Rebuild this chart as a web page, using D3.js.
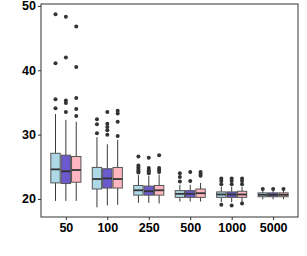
<!DOCTYPE html>
<html><head><meta charset="utf-8">
<script src="https://cdn.jsdelivr.net/npm/d3@7"></script>
<style>body{margin:0;background:#fff;} svg{display:block;}</style>
</head><body>
<script>
const categories = ["50","100","250","500","1000","5000"];
const groups = ["A","B","C"];
const colors = ["#ADD8E6","#6A5ACD","#FFB6C1"];
const yTicks = [20,30,40,50];
// stats per group per category: [lowWhisker, q1, median, q3, highWhisker]
const statsA = [[19.7,22.5,24.6,27.1,33.2],[18.7,21.55,23.1,24.9,29.6],[19.4,20.6,21.35,22.1,23.7],[19.6,20.25,20.8,21.3,22.2],[19.5,20.25,20.7,21.1,21.9],[19.95,20.35,20.65,20.95,21.3]];
const statsB = [[19.7,22.4,24.3,26.8,32.3],[19.0,21.7,23.2,24.7,28.5],[19.4,20.6,21.2,22.0,23.6],[19.6,20.25,20.8,21.3,22.2],[19.5,20.25,20.7,21.1,21.9],[19.95,20.35,20.65,20.95,21.3]];
const statsC = [[19.7,22.6,24.5,26.6,32.0],[19.1,21.7,23.1,24.9,29.2],[19.3,20.6,21.35,22.1,23.8],[19.6,20.25,20.9,21.55,22.5],[19.5,20.25,20.7,21.2,21.9],[19.95,20.35,20.65,20.95,21.3]];
const outA = [[48.7,41.1,35.5,34.1],[32.4,31.6,30.2],[26.6,25.2,24.9,24.6,24.3,24.1],[24.0,23.4,22.7],[23.2,22.8,22.3,19.1],[21.55]];
const outB = [[48.3,42.0,35.3,34.9,33.5],[33.5,31.7,31.2,30.7,30.0],[26.4,24.8,24.5,24.3,24.0],[24.2,22.8],[23.2,22.8,22.3,19.0],[21.55]];
const outC = [[46.8,40.5,35.7,34.0,32.9],[33.7,33.3,32.0,29.8],[26.8,24.8,24.5,24.2],[24.2,23.9,23.6],[23.2,22.8,22.3,19.3],[21.55]];

const W=307,H=256, m={l:41,r:9,t:4,b:39};
const svg=d3.select("body").append("svg").attr("width",W).attr("height",H);
const x=d3.scalePoint().domain(categories).range([m.l,W-m.r]).padding(0.6);
const y=d3.scaleLinear().domain([17.2,50.3]).range([H-m.b,m.t]);
const dodge=0.75*x.step();
const xg=d3.scaleBand().domain(groups).range([-dodge/2,dodge/2]);
const bw=xg.bandwidth();

const allStats=[statsA,statsB,statsC], allOut=[outA,outB,outC];
const stroke="#3a3a3a";
groups.forEach((g,gi)=>{
  categories.forEach((c,ci)=>{
    const s=allStats[gi][ci];
    const cx=x(c)+xg(g)+bw/2;
    const gEl=svg.append("g");
    gEl.append("line").attr("x1",cx).attr("x2",cx).attr("y1",y(s[0])).attr("y2",y(s[1])).attr("stroke",stroke).attr("stroke-width",1);
    gEl.append("line").attr("x1",cx).attr("x2",cx).attr("y1",y(s[3])).attr("y2",y(s[4])).attr("stroke",stroke).attr("stroke-width",1);
    gEl.append("rect").attr("x",cx-bw/2+0.5).attr("width",bw-1).attr("y",y(s[3])).attr("height",y(s[1])-y(s[3]))
      .attr("fill",colors[gi]).attr("stroke","#555").attr("stroke-width",1);
    gEl.append("line").attr("x1",cx-bw/2+0.5).attr("x2",cx+bw/2-0.5).attr("y1",y(s[2])).attr("y2",y(s[2])).attr("stroke","#333").attr("stroke-width",1.8);
    gEl.selectAll("circle").data(allOut[gi][ci]).enter().append("circle")
      .attr("cx",cx).attr("cy",d=>y(d)).attr("r",2).attr("fill","#333");
  });
});

// panel border
svg.append("rect").attr("x",m.l).attr("y",m.t).attr("width",W-m.l-m.r).attr("height",H-m.t-m.b)
  .attr("fill","none").attr("stroke","#333").attr("stroke-width",1);

const yAxis=svg.append("g").attr("transform",`translate(${m.l},0)`)
  .call(d3.axisLeft(y).tickValues(yTicks).tickSize(3).tickPadding(2));
const xAxis=svg.append("g").attr("transform",`translate(0,${H-m.b})`)
  .call(d3.axisBottom(x).tickSize(3).tickPadding(3));
[yAxis,xAxis].forEach(a=>{
  a.select(".domain").remove();
  a.selectAll(".tick line").attr("stroke","#333");
  a.selectAll("text").attr("fill","#000").style("font-family","'Liberation Sans',Arial,sans-serif")
   .style("font-size","12.5px").style("font-weight","bold");
});
</script>
</body></html>
